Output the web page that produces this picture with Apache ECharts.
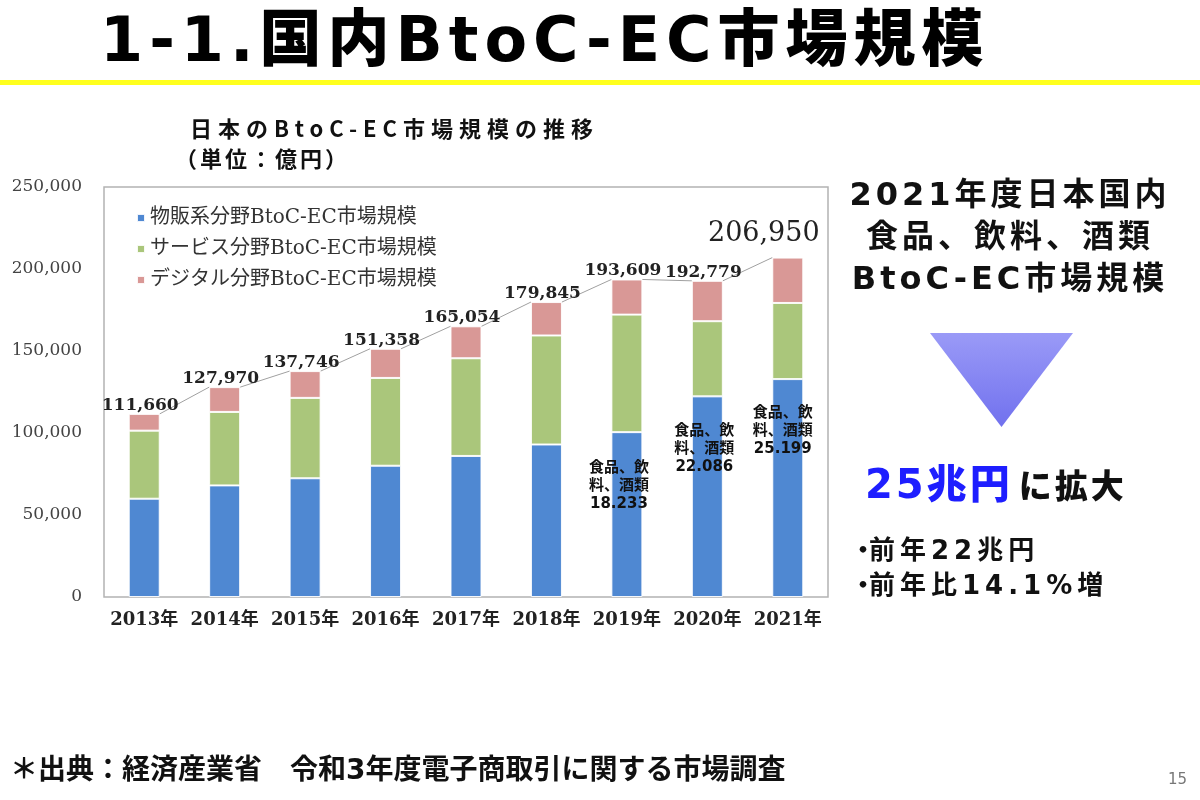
<!DOCTYPE html>
<html lang="ja">
<head>
<meta charset="utf-8">
<title>国内BtoC-EC市場規模</title>
<script src="https://cdn.jsdelivr.net/npm/echarts@6/dist/echarts.min.js"></script>
<style>
  html, body { margin: 0; padding: 0; background: #fff; }
  #wrap { position: relative; width: 1200px; height: 800px; overflow: hidden;
          font-family: "DejaVu Sans", "Noto Sans CJK JP", sans-serif; }
  #chart { position: absolute; left: 0; top: 0; width: 1200px; height: 800px; }
  .txt { position: absolute; white-space: nowrap; color: #111; font-weight: 700; line-height: 1; z-index: 2; }
  #pageTitle { left: 100px; top: 9px; font-size: 62px; font-weight: 900; letter-spacing: 6px; color: #000; }
  #yellowBar { position: absolute; left: 0; top: 80px; width: 1200px; height: 5px; background: #ffff1e; z-index: 2; }
  #chartTitle { left: 190px; top: 116px; font-size: 22px; letter-spacing: 6px; font-family: "Noto Sans CJK JP", sans-serif; }
  #chartUnit { left: 175px; top: 146px; font-size: 22px; letter-spacing: 3px; font-family: "Noto Sans CJK JP", sans-serif; }
  #sideHead { left: 830px; top: 173px; width: 360px; text-align: center; font-size: 32px; line-height: 42px; letter-spacing: 4px; }
  #arrow { position: absolute; left: 930px; top: 333px; width: 143px; height: 94px; z-index: 2;
           clip-path: polygon(0 0, 100% 0, 50% 100%);
           background: linear-gradient(#9a9af7, #7171ee); }
  #expand { left: 865px; top: 464px; font-weight: 900; }
  #expand .big { font-size: 40px; color: #1e1eff; letter-spacing: 3px; }
  #expand .rest { font-size: 33px; letter-spacing: 3px; margin-left: 6px; }
  #note1 { left: 850px; top: 537px; font-size: 26px; letter-spacing: 5px; }
  #note2 { left: 850px; top: 572px; font-size: 26px; letter-spacing: 5px; }
  .dot { margin-right: -12px; }
  #source { left: 10px; top: 756px; font-size: 28px; }
  #pageNo { left: 1168px; top: 772px; font-size: 15px; font-weight: 400; color: #777; }
</style>
</head>
<body>
<div id="wrap">
  <div id="chart"></div>
  <div class="txt" id="pageTitle">1-1.国内BtoC-EC市場規模</div>
  <div id="yellowBar"></div>
  <div class="txt" id="chartTitle">日本のBtoC-EC市場規模の推移</div>
  <div class="txt" id="chartUnit">（単位：億円）</div>
  <div class="txt" id="sideHead">2021年度日本国内<br>食品、飲料、酒類<br>BtoC-EC市場規模</div>
  <div id="arrow"></div>
  <div class="txt" id="expand"><span class="big">25兆円</span><span class="rest">に拡大</span></div>
  <div class="txt" id="note1"><span class="dot">・</span>前年22兆円</div>
  <div class="txt" id="note2"><span class="dot">・</span>前年比14.1%増</div>
  <div class="txt" id="source">＊出典：経済産業省　令和3年度電子商取引に関する市場調査</div>
  <div class="txt" id="pageNo">15</div>
</div>
<script>
  // 年次カテゴリ
  const years = ['2013年', '2014年', '2015年', '2016年', '2017年', '2018年', '2019年', '2020年', '2021年'];
  // 分野別市場規模（億円）
  const goods = [59931, 68042, 72398, 80043, 86008, 92992, 100515, 122333, 132865];
  const services = [41500, 44816, 49014, 53532, 59568, 66471, 71672, 45832, 46424];
  const digital = [10229, 15111, 16334, 17782, 19478, 20382, 21422, 24614, 27661];
  const totals = [111660, 127970, 137746, 151358, 165054, 179845, 193609, 192779, 206950];
  const seriesNames = ['物販系分野BtoC-EC市場規模', 'サービス分野BtoC-EC市場規模', 'デジタル分野BtoC-EC市場規模'];
  // 食品、飲料、酒類の注記
  const foodYears = ['2019年', '2020年', '2021年'];
  const foodValues = ['18.233', '22.086', '25.199'];
  const foodLabel = ['食品、飲', '料、酒類'];

  const colors = ['#4f88d2', '#aac67b', '#d99896'];
  const barW = 31;
  const fmt = v => v.toLocaleString('en-US');

  const chart = echarts.init(document.getElementById('chart'));

  function barStyle(c) {
    return { color: c, borderColor: 'rgba(255,255,255,0.9)', borderWidth: 1 };
  }

  const option = {
    animation: false,
    grid: {
      left: 104, right: 372, top: 187, bottom: 203,
      show: true, borderColor: '#b3b3b3', borderWidth: 1.5,
      outerBoundsMode: 'none'
    },
    legend: {
      data: seriesNames,
      orient: 'vertical',
      left: 131, top: 203,
      icon: 'rect', itemWidth: 8, itemHeight: 8, itemGap: 11,
      textStyle: { fontSize: 20, fontFamily: 'DejaVu Serif, Noto Sans CJK JP', color: '#333' }
    },
    xAxis: {
      type: 'category',
      data: years,
      axisLine: { show: false },
      axisTick: { show: false },
      axisLabel: {
        interval: 0,
        margin: 14, fontSize: 18, fontWeight: 'bold', color: '#222',
        fontFamily: 'DejaVu Serif, Noto Sans CJK JP'
      }
    },
    yAxis: {
      type: 'value',
      min: 0, max: 250000, interval: 50000,
      splitLine: { show: false },
      axisLine: { show: false },
      axisTick: { show: false },
      axisLabel: { formatter: fmt, margin: 22, fontSize: 17, color: '#444', fontFamily: 'DejaVu Serif' }
    },
    series: [
      {
        // 系列線（棒の上端をつなぐ）
        type: 'custom',
        name: '合計',
        z: 1,
        silent: true,
        data: totals.map((v, i) => [i, v]),
        encode: { x: 0, y: 1 },
        renderItem: function (params, api) {
          const i = params.dataIndex;
          if (i >= totals.length - 1) return { type: 'group', children: [] };
          const a = api.coord([i, totals[i]]);
          const b = api.coord([i + 1, totals[i + 1]]);
          return {
            type: 'line',
            shape: { x1: a[0] + barW / 2, y1: a[1], x2: b[0] - barW / 2, y2: b[1] },
            style: { stroke: '#a0a0a0', lineWidth: 1 }
          };
        }
      },
      {
        name: seriesNames[0], type: 'bar', stack: 'ec', barWidth: barW, z: 2,
        itemStyle: barStyle(colors[0]),
        data: goods,
        markPoint: {
          symbol: 'rect', symbolSize: 0, silent: true,
          label: {
            show: true, position: 'inside', color: '#111', fontSize: 15, lineHeight: 18,
            fontWeight: 'bold', fontFamily: 'DejaVu Sans, Noto Sans CJK JP',
            formatter: p => foodLabel.join('\n') + '\n' + foodValues[p.dataIndex]
          },
          data: [
            { coord: [foodYears[0], 67900], label: { offset: [-8, 0] } },
            { coord: [foodYears[1], 89900], label: { offset: [-3, 0] } },
            { coord: [foodYears[2], 100900], label: { offset: [-5, 0] } }
          ]
        }
      },
      {
        name: seriesNames[1], type: 'bar', stack: 'ec', barWidth: barW, z: 2,
        itemStyle: barStyle(colors[1]),
        data: services
      },
      {
        name: seriesNames[2], type: 'bar', stack: 'ec', barWidth: barW, z: 2,
        itemStyle: barStyle(colors[2]),
        label: {
          show: true, position: 'top', distance: 0, offset: [-4, 0],
          formatter: p => fmt(totals[p.dataIndex]),
          fontFamily: 'DejaVu Serif', fontWeight: 'bold', fontSize: 17, color: '#222'
        },
        data: digital.map((v, i) => i === digital.length - 1
          ? { value: v, label: { fontSize: 27, fontWeight: 'normal', offset: [-24, -10] } }
          : v)
      }
    ]
  };

  chart.setOption(option);
</script>
</body>
</html>
